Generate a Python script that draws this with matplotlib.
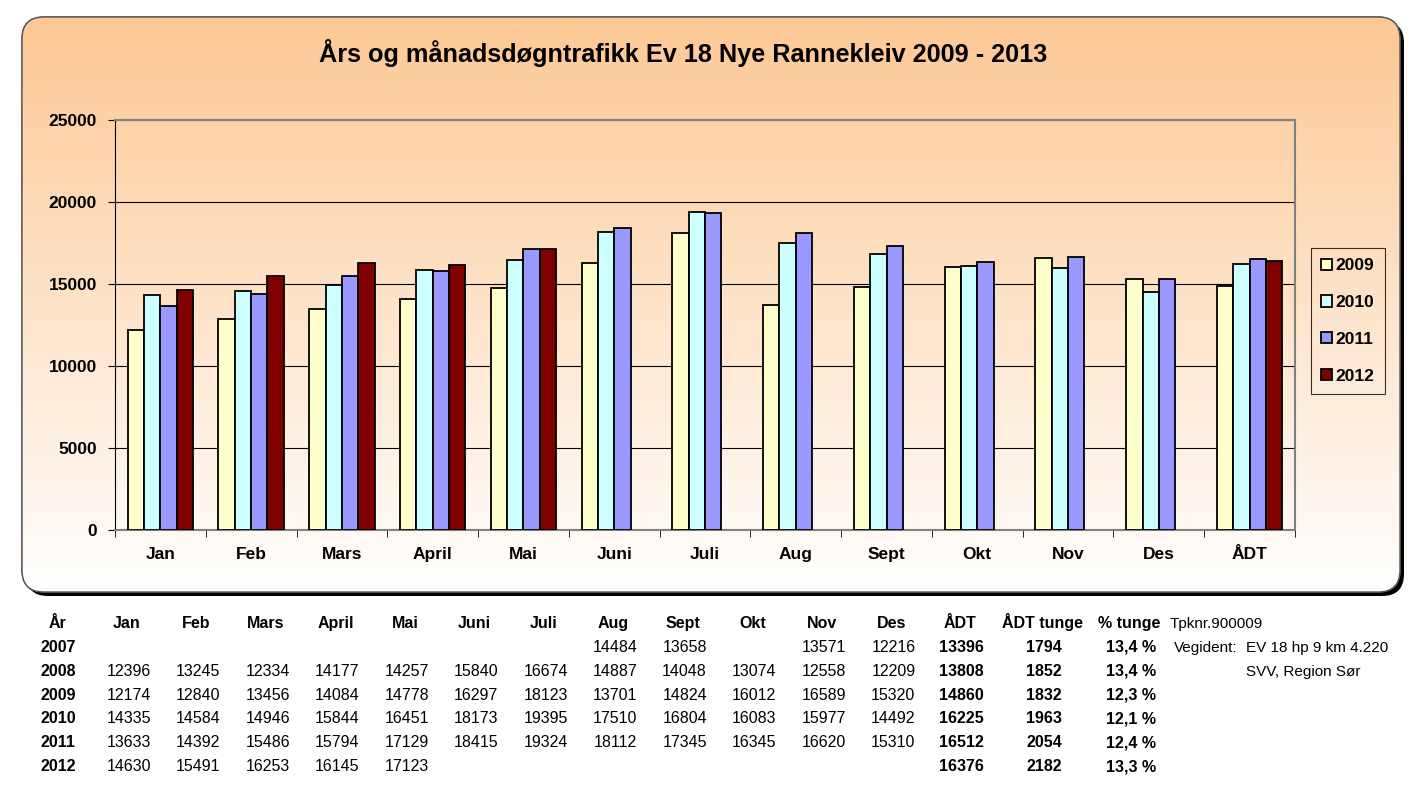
import numpy as np
import matplotlib.pyplot as plt
from matplotlib.patches import FancyBboxPatch
from matplotlib.colors import LinearSegmentedColormap

plt.rcParams['font.family'] = ['Liberation Sans', 'DejaVu Sans']

# chart data
months = ['Jan', 'Feb', 'Mars', 'April', 'Mai', 'Juni', 'Juli', 'Aug', 'Sept', 'Okt', 'Nov', 'Des', 'ÅDT']
years = ['2009', '2010', '2011', '2012']
v2009 = [12174, 12840, 13456, 14084, 14778, 16297, 18123, 13701, 14824, 16012, 16589, 15320, 14860]
v2010 = [14335, 14584, 14946, 15844, 16451, 18173, 19395, 17510, 16804, 16083, 15977, 14492, 16225]
v2011 = [13633, 14392, 15486, 15794, 17129, 18415, 19324, 18112, 17345, 16345, 16620, 15310, 16512]
v2012 = [14630, 15491, 16253, 16145, 17123, None, None, None, None, None, None, None, 16376]
colors = ['#FFFFCC', '#CCFFFF', '#9999FF', '#800000']

# table below the chart
tab_header = ['År', 'Jan', 'Feb', 'Mars', 'April', 'Mai', 'Juni', 'Juli', 'Aug', 'Sept', 'Okt', 'Nov', 'Des']
tab_years = ['2007', '2008', '2009', '2010', '2011', '2012']
tab_months = [
    ['', '', '', '', '', '', '', '14484', '13658', '', '13571', '12216'],
    ['12396', '13245', '12334', '14177', '14257', '15840', '16674', '14887', '14048', '13074', '12558', '12209'],
    [str(v) for v in v2009[:12]],
    [str(v) for v in v2010[:12]],
    [str(v) for v in v2011[:12]],
    ['14630', '15491', '16253', '16145', '17123', '', '', '', '', '', '', ''],
]
tab_adt = ['13396', '13808', '14860', '16225', '16512', '16376']
tab_tunge = ['1794', '1852', '1832', '1963', '2054', '2182']
tab_pct = ['13,4 %', '13,4 %', '12,3 %', '12,1 %', '12,4 %', '13,3 %']

W, H = 1425, 798
fig = plt.figure(figsize=(W / 100, H / 100), dpi=100)

# background box with gradient and shadow
bg = fig.add_axes([0, 0, 1, 1], zorder=-5)
bg.set_xlim(0, W)
bg.set_ylim(H, 0)
bg.axis('off')
shadow = FancyBboxPatch((26, 21), 1378, 575, boxstyle='round,pad=0,rounding_size=22',
                        fc='black', ec='none')
bg.add_patch(shadow)
box = FancyBboxPatch((22, 17), 1378, 575, boxstyle='round,pad=0,rounding_size=22',
                     fc='white', ec='#555555', lw=1)
bg.add_patch(box)
grad = np.linspace(0, 1, 256).reshape(-1, 1)
cm = LinearSegmentedColormap.from_list('bg', ['#FDC894', '#FFFFFF'])
im = bg.imshow(grad, cmap=cm, aspect='auto', extent=(22, 1400, 592, 17), zorder=1)
im.set_clip_path(box)
box2 = FancyBboxPatch((22, 17), 1378, 575, boxstyle='round,pad=0,rounding_size=22',
                      fc='none', ec='#555555', lw=1, zorder=2)
bg.add_patch(box2)

bg.text(683, 53, 'Års og månadsdøgntrafikk Ev 18 Nye Rannekleiv 2009 - 2013', ha='center', va='center',
        fontsize=18.2, fontweight='bold')

# bar chart
ax = fig.add_axes([115 / W, 1 - 530 / H, 1180 / W, 410 / H])
ax.patch.set_alpha(0)
x = np.arange(len(months))
bw = 0.18
series = [v2009, v2010, v2011, v2012]
for i, (vals, c) in enumerate(zip(series, colors)):
    vv = [np.nan if v is None else v for v in vals]
    ax.bar(x + (i - 1.5) * bw, vv, bw, color=c, edgecolor='black', linewidth=1.3, label=years[i], zorder=3)

ax.set_xlim(-0.5, len(months) - 0.5)
ax.set_ylim(0, 25000)
ax.set_yticks(range(0, 25001, 5000))
ax.yaxis.grid(True, color='black', linewidth=0.8, zorder=0)
ax.set_xticks(x)
ax.set_xticklabels(months, fontsize=12.5, fontweight='bold')
ax.set_xticks(np.arange(-0.5, len(months)), minor=True)
ax.tick_params(axis='x', which='major', length=0, pad=12)
ax.tick_params(axis='x', which='minor', length=5, direction='out', color='black')
ax.tick_params(axis='y', length=5, direction='out', pad=8)
for lab in ax.get_yticklabels():
    lab.set_fontweight('bold')
    lab.set_fontsize(12.5)
for s in ['top', 'right', 'bottom']:
    ax.spines[s].set_color('#808080')
    ax.spines[s].set_linewidth(1.5)
ax.spines['left'].set_color('black')

leg = ax.legend(loc='upper left', bbox_to_anchor=(1196 / 1180, (530 - 248) / 410), frameon=True,
                borderaxespad=0, fancybox=False, edgecolor='black', facecolor='none',
                prop={'weight': 'bold', 'size': 12.5},
                handlelength=0.6, handleheight=0.6, handletextpad=0.2, labelspacing=1.25,
                borderpad=0.6)
leg.get_frame().set_linewidth(0.8)

# table text
col_x = [58] + [127 + 69.5 * i for i in range(12)]
right_x = [151 + 69.5 * i for i in range(12)]
row_y = [652 + 23.8 * r for r in range(6)]
hy = 628
for j, h in enumerate(tab_header):
    bg.text(col_x[j], hy, h, ha='center', va='baseline', fontsize=11.5, fontweight='bold')
bg.text(960, hy, 'ÅDT', ha='center', va='baseline', fontsize=11.5, fontweight='bold')
bg.text(1043, hy, 'ÅDT tunge', ha='center', va='baseline', fontsize=11.5, fontweight='bold')
bg.text(1129, hy, '% tunge', ha='center', va='baseline', fontsize=11.5, fontweight='bold')
bg.text(1170, hy, 'Tpknr.900009', ha='left', va='baseline', fontsize=11)
for r, yr in enumerate(tab_years):
    y = row_y[r]
    bg.text(58, y, yr, ha='center', va='baseline', fontsize=11.5, fontweight='bold')
    for j, v in enumerate(tab_months[r]):
        if v:
            bg.text(right_x[j], y, v, ha='right', va='baseline', fontsize=11.5)
    bg.text(984, y, tab_adt[r], ha='right', va='baseline', fontsize=11.5, fontweight='bold')
    bg.text(1062, y, tab_tunge[r], ha='right', va='baseline', fontsize=11.5, fontweight='bold')
    bg.text(1156, y, tab_pct[r], ha='right', va='baseline', fontsize=11.5, fontweight='bold')
bg.text(1174, row_y[0], 'Vegident:', ha='left', va='baseline', fontsize=11)
bg.text(1246, row_y[0], 'EV 18 hp 9 km 4.220', ha='left', va='baseline', fontsize=11)
bg.text(1246, row_y[1], 'SVV, Region Sør', ha='left', va='baseline', fontsize=11)

fig.savefig('out.png', dpi=100)
